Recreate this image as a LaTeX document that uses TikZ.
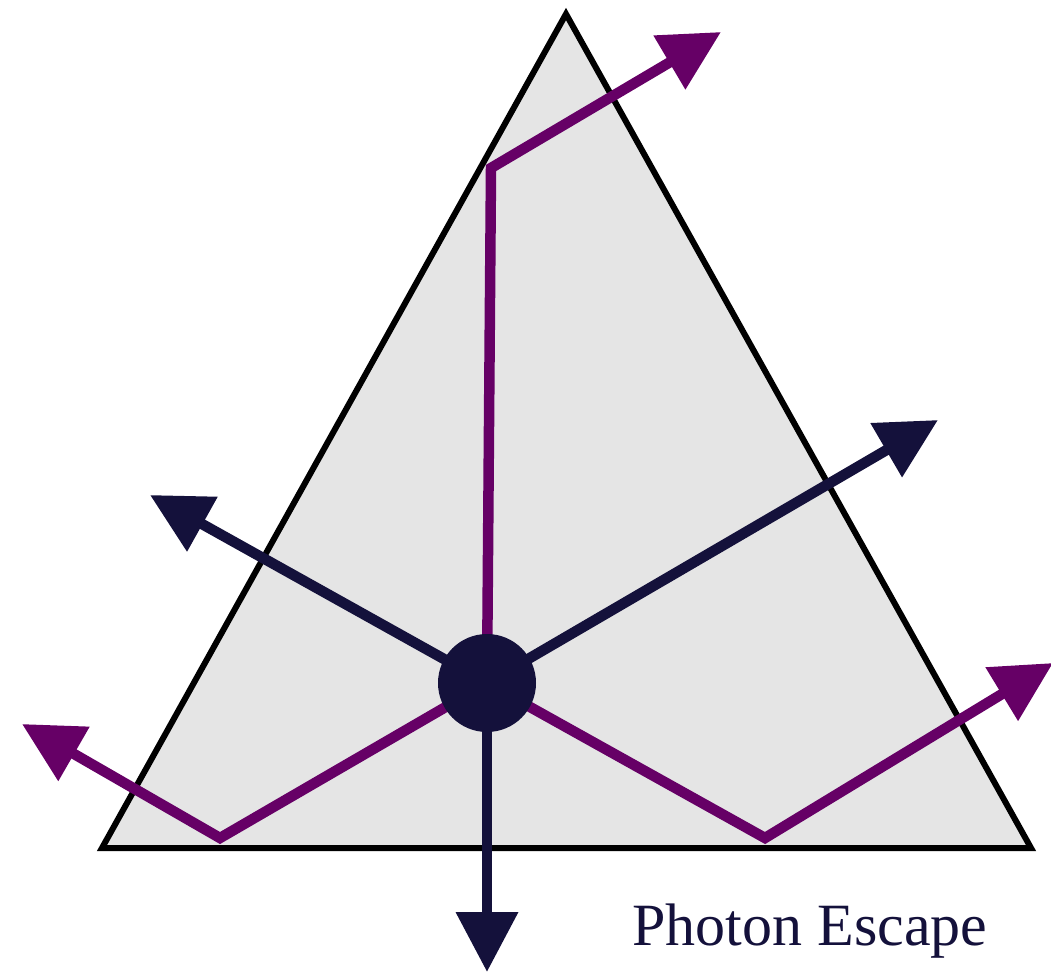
\documentclass[tikz,border=0pt]{standalone}
\usepackage{fontspec}
\setmainfont{Liberation Serif}
\usetikzlibrary{arrows.meta}
\definecolor{navy}{HTML}{14113B}
\definecolor{plum}{HTML}{660066}
\definecolor{tri}{HTML}{E5E5E5}
\begin{document}
\begin{tikzpicture}[x=1pt,y=-1pt,
  ray/.style={line width=10.5pt, -{Triangle[length=60pt,width=60pt]}},
  navyray/.style={ray, draw=navy},
  plumray/.style={ray, draw=plum, line join=miter},
  dot/.style={circle, fill=navy, minimum size=98pt, inner sep=0pt}]
\useasboundingbox (0,0) rectangle (1051,971);
\fill[tri] (566,14) -- (102,848) -- (1031,848) -- cycle;
\draw[line width=6pt, line join=miter] (566,14) -- (102,848) -- (1031,848) -- cycle;
\coordinate (c) at (487,683);
\coordinate (tUL) at (150,495);
\coordinate (tUR) at (938,420);
\coordinate (tD) at (487,972);
\coordinate (k1) at (491,168);
\coordinate (t1) at (721,32);
\coordinate (k2) at (220,838);
\coordinate (t2) at (22,724);
\coordinate (k3) at (765,838);
\coordinate (t3) at (1053,663);
\draw[plumray] (c) -- (k1) -- (t1);
\draw[plumray] (c) -- (k2) -- (t2);
\draw[plumray] (c) -- (k3) -- (t3);
\draw[navyray] (c) -- (tUL);
\draw[navyray] (c) -- (tUR);
\draw[navyray] (c) -- (tD);
\node[dot] (core) at (c) {};
\node[text=navy, font=\fontsize{60}{60}\selectfont, anchor=base] (label) at (810,945) {Photon Escape};
\end{tikzpicture}
\end{document}
